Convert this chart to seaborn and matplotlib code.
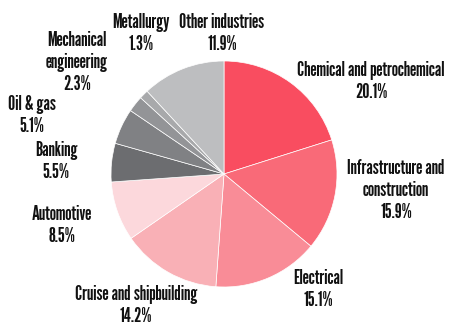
import matplotlib
matplotlib.use("Agg")
import matplotlib.pyplot as plt
import seaborn as sns

sns.set_theme(style="white")
plt.rcParams['font.family'] = ['League Gothic', 'DejaVu Sans']

categories = ["Chemical and petrochemical", "Infrastructure and\nconstruction", "Electrical",
              "Cruise and shipbuilding", "Automotive", "Banking", "Oil & gas",
              "Mechanical\nengineering", "Metallurgy", "Other industries"]
values = [20.1, 15.9, 15.1, 14.2, 8.5, 5.5, 5.1, 2.3, 1.3, 11.9]
colors = ["#F94D60", "#F96A78", "#F98C97", "#F9B0B6", "#FCD8DC",
          "#6C6D70", "#808184", "#939497", "#A8A9AB", "#BDBEC0"]
# label block centres (pixels in the 450x324 canvas)
label_px = [(371, 82), (396, 190), (318, 290), (136, 305), (62, 225),
            (56, 162), (32, 115), (77, 62), (141, 34), (222, 34)]

W, H = 450, 324
cx, cy, R = 224, 174, 113

fig = plt.figure(figsize=(4.5, 3.24), dpi=100)
ax = fig.add_axes([0, 0, 1, 1])
ax.pie(values, colors=colors, startangle=90, counterclock=False, radius=1,
       wedgeprops=dict(edgecolor="white", linewidth=0.5))
ax.set_xlim(-cx / R, (W - cx) / R)
ax.set_ylim(-(H - cy) / R, cy / R)
ax.set_aspect("equal")
ax.axis("off")

for cat, v, (px, py) in zip(categories, values, label_px):
    ax.text((px - cx) / R, (cy - py) / R, f"{cat}\n{v:.1f}%", ha="center", va="center",
            fontsize=14.5, color="#111111", linespacing=1.2)

fig.savefig("out.png", dpi=100)
